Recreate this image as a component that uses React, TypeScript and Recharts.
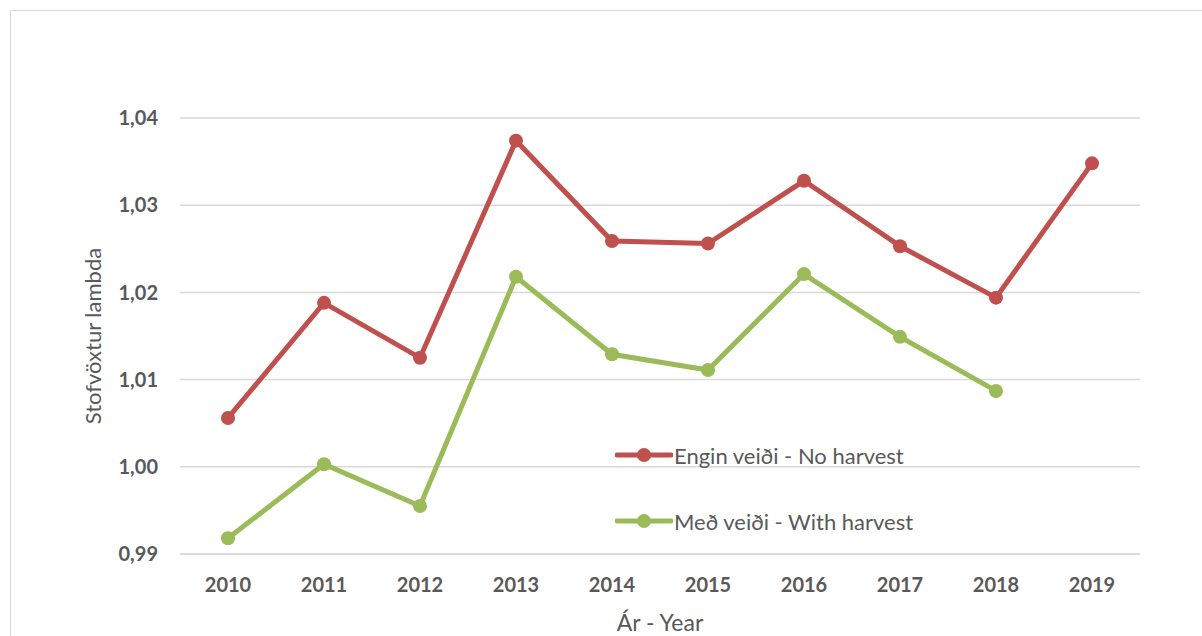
import React from 'react';
import { LineChart, Line, XAxis, YAxis, CartesianGrid, Legend } from 'recharts';

const years = ['2010', '2011', '2012', '2013', '2014', '2015', '2016', '2017', '2018', '2019'];
const noHarvest = [1.0056, 1.0188, 1.0125, 1.0374, 1.0259, 1.0256, 1.0328, 1.0253, 1.0194, 1.0348];
const withHarvest = [0.9918, 1.0003, 0.9955, 1.0218, 1.0129, 1.0111, 1.0221, 1.0149, 1.0087, null];
const yTicks = [0.99, 1.0, 1.01, 1.02, 1.03, 1.04];

const RED = '#c0504d';
const GREEN = '#9bbb59';
const GRID = '#d9d9d9';
const TEXT = '#595959';
const FONT = 'Lato, "Open Sans", sans-serif';

const data = years.map((year, i) => ({
  year,
  none: noHarvest[i],
  harvest: withHarvest[i],
}));

const fmt = (v: number) => v.toFixed(2).replace('.', ',');

function LegendBox(props: any) {
  const items = props.payload || [];
  return (
    <div style={{ fontFamily: FONT, fontSize: 22, color: TEXT }}>
      {items.map((it: any, i: number) => (
        <div key={i} style={{ display: 'flex', alignItems: 'center', height: 30, marginBottom: i === 0 ? 36 : 0 }}>
          <svg width={58} height={16} style={{ marginRight: 1 }}>
            <line x1={2} y1={8} x2={56} y2={8} stroke={it.color} strokeWidth={5} strokeLinecap="round" />
            <circle cx={29} cy={8} r={7} fill={it.color} />
          </svg>
          <span>{it.value}</span>
        </div>
      ))}
    </div>
  );
}

export default function App() {
  return (
    <div style={{ position: 'relative', width: 1202, height: 636, overflow: 'hidden', background: '#fff' }}>
      <style>{'body{margin:0;overflow:hidden;}'}</style>
      <div
        style={{
          position: 'absolute',
          left: 10,
          top: 10,
          width: 1220,
          height: 660,
          border: `1px solid ${GRID}`,
        }}
      />
      <div style={{ position: 'absolute', left: 0, top: 0 }}>
        <LineChart width={1202} height={636} data={data} margin={{ top: 118, right: 62, bottom: 0, left: 0 }}>
          <CartesianGrid vertical={false} stroke={GRID} strokeWidth={1.5} />
          <XAxis
            dataKey="year"
            height={82}
            padding={{ left: 48, right: 48 }}
            axisLine={{ stroke: GRID, strokeWidth: 1.5 }}
            tickLine={false}
            tickSize={0}
            tickMargin={24}
            tick={{ fill: TEXT, fontSize: 20, fontWeight: 700, fontFamily: FONT }}
            label={{
              value: 'Ár - Year',
              position: 'insideBottom',
              offset: 5,
              fill: TEXT,
              fontSize: 23,
              fontFamily: FONT,
            }}
          />
          <YAxis
            width={180}
            domain={[0.99, 1.04]}
            ticks={yTicks}
            axisLine={false}
            tickLine={false}
            tickSize={0}
            tickMargin={22}
            tickFormatter={fmt}
            tick={{ fill: TEXT, fontSize: 20, fontWeight: 700, fontFamily: FONT }}
            label={{
              value: 'Stofvöxtur lambda',
              angle: -90,
              position: 'center',
              dx: 3,
              fill: TEXT,
              fontSize: 22,
              fontFamily: FONT,
            }}
          />
          <Legend
            layout="vertical"
            align="center"
            verticalAlign="middle"
            content={<LegendBox />}
            wrapperStyle={{ left: 615, top: 440, width: 340 }}
          />
          <Line
            name="Engin veiði - No harvest"
            dataKey="none"
            stroke={RED}
            strokeWidth={5}
            dot={{ r: 7, fill: RED, stroke: RED, strokeWidth: 0 }}
            activeDot={false}
            isAnimationActive={false}
          />
          <Line
            name="Með veiði - With harvest"
            dataKey="harvest"
            stroke={GREEN}
            strokeWidth={5}
            dot={{ r: 7, fill: GREEN, stroke: GREEN, strokeWidth: 0 }}
            activeDot={false}
            isAnimationActive={false}
          />
        </LineChart>
      </div>
    </div>
  );
}
